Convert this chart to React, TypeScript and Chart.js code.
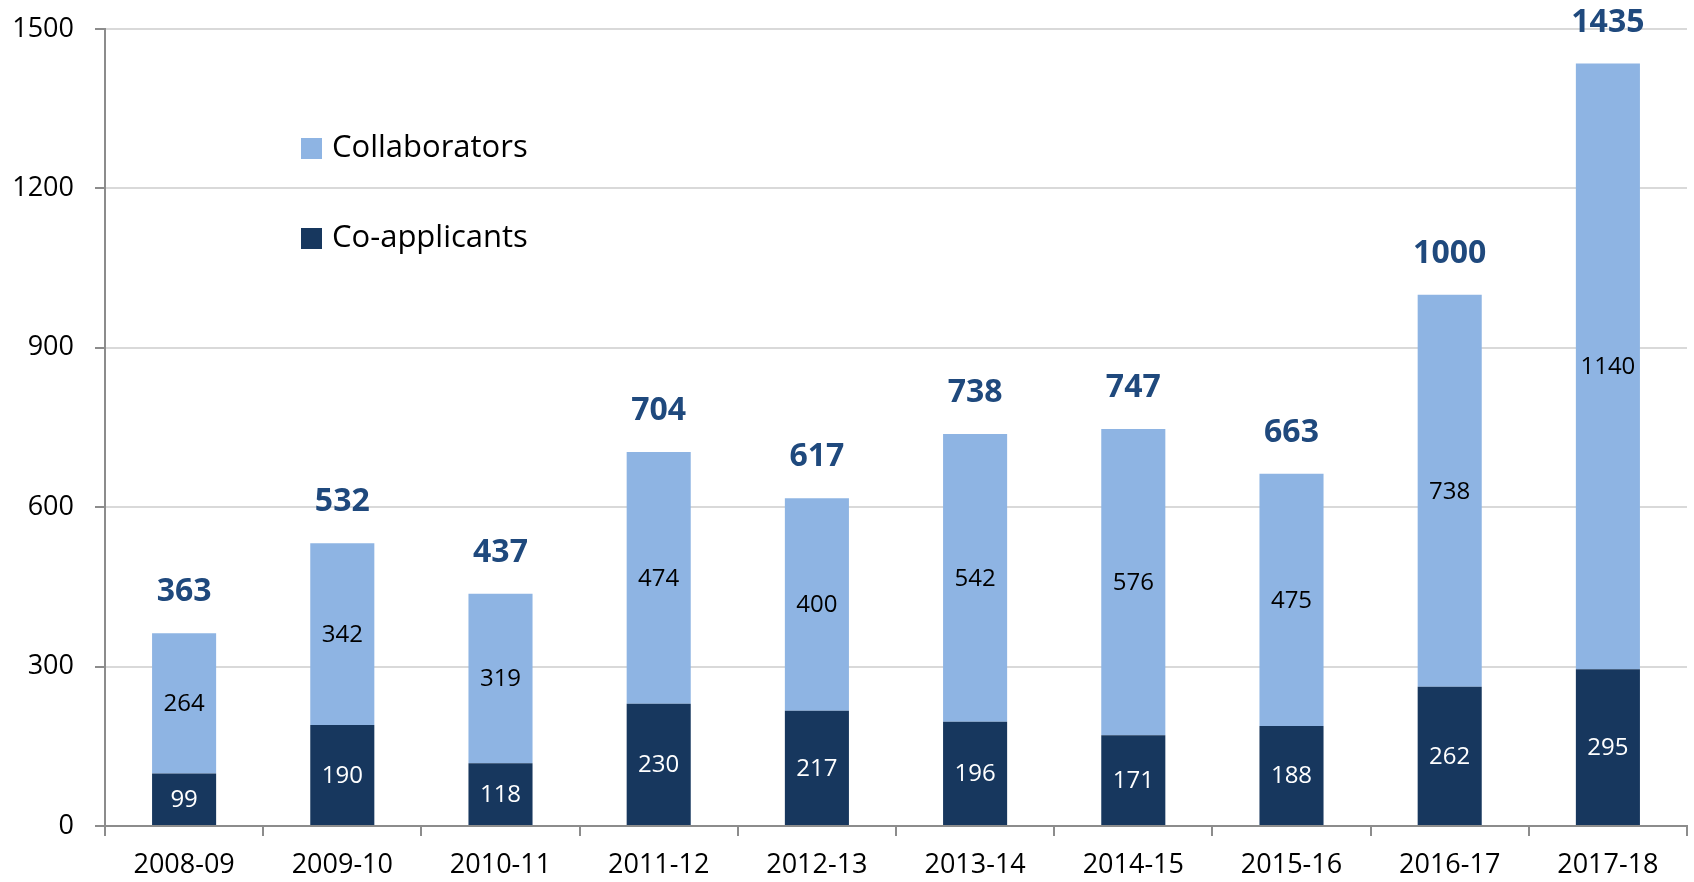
import React, { useEffect, useRef } from "react";
import { Chart, registerables } from "chart.js";

Chart.register(...registerables);

const categories = ["2008-09", "2009-10", "2010-11", "2011-12", "2012-13", "2013-14", "2014-15", "2015-16", "2016-17", "2017-18"];
const coApplicants = [99, 190, 118, 230, 217, 196, 171, 188, 262, 295];
const collaborators = [264, 342, 319, 474, 400, 542, 576, 475, 738, 1140];
const totals = [363, 532, 437, 704, 617, 738, 747, 663, 1000, 1435];
const yTicks = [0, 300, 600, 900, 1200, 1500];

const LIGHT = "#8EB4E3";
const DARK = "#17375E";
const TOTAL_COLOR = "#1F497D";
const FONT = "'Open Sans', 'Liberation Sans', sans-serif";

const labelPlugin = {
  id: "segLabels",
  afterDatasetsDraw(chart: any) {
    const ctx = chart.ctx;
    ctx.save();
    ctx.textAlign = "center";
    ctx.textBaseline = "middle";
    ctx.font = `24px ${FONT}`;
    chart.data.datasets.forEach((ds: any, di: number) => {
      const meta = chart.getDatasetMeta(di);
      meta.data.forEach((bar: any, i: number) => {
        const cy = (bar.y + bar.base) / 2;
        ctx.fillStyle = di === 0 ? "#FFFFFF" : "#000000";
        ctx.fillText(String(ds.data[i]), bar.x, cy + 1);
      });
    });
    const topMeta = chart.getDatasetMeta(1);
    ctx.font = `bold 32px ${FONT}`;
    ctx.fillStyle = TOTAL_COLOR;
    topMeta.data.forEach((bar: any, i: number) => {
      ctx.fillText(String(totals[i]), bar.x, bar.y - 41);
    });
    ctx.restore();
  },
};

const legendPlugin = {
  id: "customLegend",
  afterDraw(chart: any) {
    const ctx = chart.ctx;
    ctx.save();
    const items = [
      { label: "Collaborators", color: LIGHT, cy: 148.5 },
      { label: "Co-applicants", color: DARK, cy: 238.5 },
    ];
    ctx.font = `31px ${FONT}`;
    ctx.textBaseline = "middle";
    ctx.textAlign = "left";
    items.forEach((it) => {
      ctx.fillStyle = it.color;
      ctx.fillRect(301, it.cy - 10.5, 21, 21);
      ctx.fillStyle = "#000000";
      ctx.fillText(it.label, 332, it.cy);
    });
    ctx.restore();
  },
};

export default function App() {
  const ref = useRef<HTMLCanvasElement | null>(null);
  useEffect(() => {
    if (!ref.current) return;
    const chart = new Chart(ref.current, {
      type: "bar",
      data: {
        labels: categories,
        datasets: [
          { label: "Co-applicants", data: coApplicants, backgroundColor: DARK, stack: "s" },
          { label: "Collaborators", data: collaborators, backgroundColor: LIGHT, stack: "s" },
        ],
      },
      options: {
        animation: false,
        responsive: false,
        devicePixelRatio: 1,
        layout: { padding: { top: 29, right: 7, left: 0, bottom: 0 } },
        datasets: { bar: { barPercentage: 0.405, categoryPercentage: 1 } },
        plugins: { legend: { display: false }, tooltip: { enabled: false } },
        scales: {
          x: {
            stacked: true,
            grid: { drawOnChartArea: false, drawTicks: true, tickLength: 10, tickColor: "#8C8C8C", lineWidth: 2, offset: true },
            border: { display: true, color: "#8C8C8C", width: 2 },
            ticks: { color: "#000000", font: { family: FONT, size: 27 }, padding: 13, maxRotation: 0 },
            afterFit: (s: any) => { s.height = 56; s.paddingLeft = 0; s.paddingRight = 0; },
          },
          y: {
            stacked: true,
            min: 0,
            max: 1500,
            afterBuildTicks: (s: any) => { s.ticks = yTicks.map((v) => ({ value: v })); },
            grid: {
              color: (c: any) => (c.tick && c.tick.value === 0 ? "#8C8C8C" : "#D9D9D9"),
              lineWidth: 2,
              tickLength: 10,
              tickColor: "#8C8C8C",
            },
            border: { display: true, color: "#8C8C8C", width: 2 },
            ticks: { color: "#000000", font: { family: FONT, size: 27 }, padding: 21, callback: (v: any) => String(v) },
            afterFit: (s: any) => { s.width = 105; s.paddingTop = 0; s.paddingBottom = 0; },
          },
        },
      },
      plugins: [labelPlugin, legendPlugin],
    });
    return () => chart.destroy();
  }, []);
  return (
    <div style={{ position: "absolute", left: 0, top: 0, width: 1694, height: 882, background: "#fff" }}>
      <canvas ref={ref} width={1694} height={882} style={{ width: 1694, height: 882, display: "block" }} />
    </div>
  );
}
